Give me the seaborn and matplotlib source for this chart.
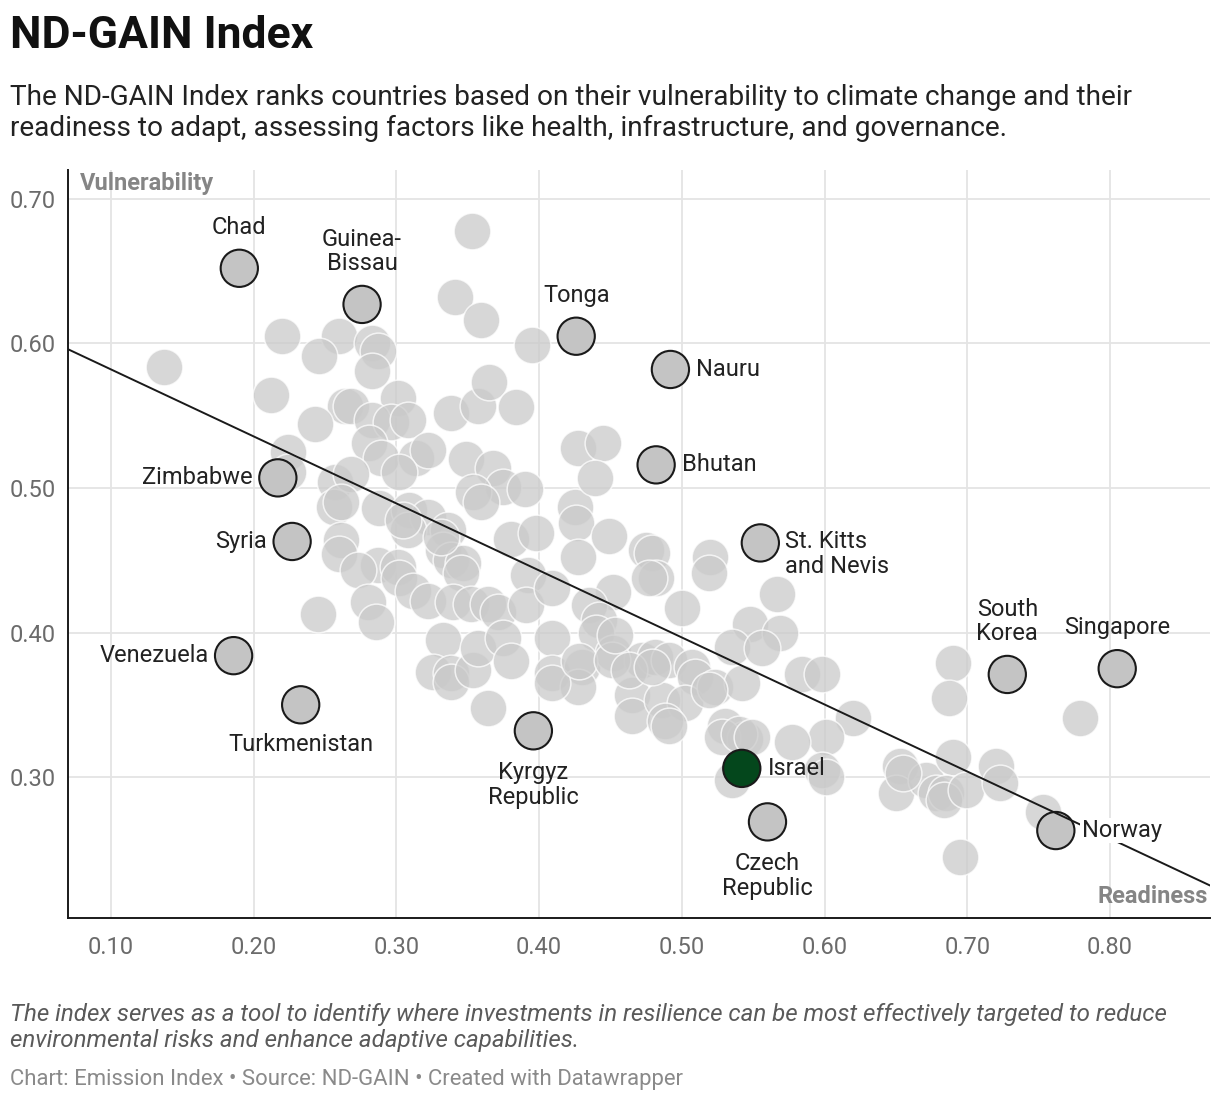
import matplotlib
matplotlib.use("Agg")
import matplotlib.pyplot as plt
import seaborn as sns
import pandas as pd

# readiness (x) and vulnerability (y) of the unlabelled countries
other_readiness = [
    0.353, 0.341, 0.359, 0.395, 0.137, 0.220, 0.260, 0.246, 0.283, 0.287,
    0.283, 0.212, 0.264, 0.268, 0.301, 0.243, 0.283, 0.296, 0.308, 0.281,
    0.289, 0.314, 0.322, 0.302, 0.224, 0.224, 0.257, 0.268, 0.256, 0.261,
    0.288, 0.309, 0.322, 0.336, 0.308, 0.261, 0.338, 0.357, 0.365, 0.384,
    0.349, 0.368, 0.375, 0.390, 0.354, 0.359, 0.380, 0.398, 0.427, 0.425,
    0.445, 0.439, 0.426, 0.427, 0.449, 0.475, 0.479, 0.482, 0.520, 0.519,
    0.500, 0.567, 0.548, 0.569, 0.535, 0.556, 0.584, 0.598, 0.620, 0.601,
    0.577, 0.452, 0.435, 0.442, 0.440, 0.409, 0.409, 0.430, 0.427, 0.452,
    0.472, 0.481, 0.491, 0.507, 0.509, 0.465, 0.465, 0.486, 0.502, 0.488,
    0.523, 0.542, 0.530, 0.544, 0.535, 0.598, 0.601, 0.653, 0.650, 0.671,
    0.678, 0.690, 0.687, 0.779, 0.655, 0.690, 0.685, 0.684, 0.699, 0.720,
    0.723, 0.753, 0.695, 0.260, 0.287, 0.273, 0.301, 0.302, 0.312, 0.333,
    0.338, 0.347, 0.345, 0.322, 0.340, 0.352, 0.364, 0.371, 0.392, 0.391,
    0.409, 0.245, 0.280, 0.286, 0.333, 0.326, 0.338, 0.338, 0.354, 0.357,
    0.375, 0.380, 0.364, 0.409, 0.428, 0.451, 0.463, 0.477, 0.453, 0.331,
    0.305, 0.479, 0.519, 0.491, 0.528, 0.540, 0.549,
]
other_vulnerability = [
    0.678, 0.632, 0.616, 0.599, 0.584, 0.605, 0.605, 0.591, 0.600, 0.595,
    0.581, 0.564, 0.557, 0.557, 0.562, 0.544, 0.547, 0.546, 0.547, 0.531,
    0.521, 0.521, 0.526, 0.511, 0.525, 0.511, 0.504, 0.510, 0.487, 0.490,
    0.486, 0.485, 0.480, 0.471, 0.471, 0.464, 0.552, 0.557, 0.573, 0.556,
    0.520, 0.514, 0.501, 0.499, 0.497, 0.490, 0.465, 0.469, 0.528, 0.487,
    0.531, 0.507, 0.476, 0.452, 0.467, 0.457, 0.455, 0.438, 0.452, 0.441,
    0.417, 0.427, 0.406, 0.400, 0.390, 0.389, 0.371, 0.371, 0.341, 0.328,
    0.324, 0.428, 0.419, 0.409, 0.400, 0.396, 0.372, 0.376, 0.362, 0.386,
    0.381, 0.383, 0.381, 0.376, 0.369, 0.357, 0.342, 0.353, 0.351, 0.339,
    0.362, 0.365, 0.335, 0.326, 0.298, 0.305, 0.300, 0.308, 0.289, 0.298,
    0.289, 0.379, 0.355, 0.341, 0.303, 0.314, 0.289, 0.284, 0.291, 0.308,
    0.296, 0.276, 0.245, 0.454, 0.447, 0.443, 0.445, 0.438, 0.429, 0.457,
    0.450, 0.448, 0.441, 0.422, 0.421, 0.420, 0.420, 0.414, 0.440, 0.419,
    0.431, 0.413, 0.421, 0.407, 0.395, 0.373, 0.372, 0.366, 0.374, 0.389,
    0.396, 0.380, 0.348, 0.365, 0.380, 0.381, 0.374, 0.438, 0.398, 0.466,
    0.478, 0.376, 0.360, 0.335, 0.328, 0.330, 0.328,
]

# labelled countries
named_countries = ["Chad", "Guinea-\nBissau", "Tonga", "Nauru", "Bhutan", "Zimbabwe",
                   "Syria", "St. Kitts\nand Nevis", "Venezuela", "Turkmenistan",
                   "Kyrgyz\nRepublic", "Israel", "Czech\nRepublic", "South\nKorea",
                   "Singapore", "Norway"]
named_readiness = [0.190, 0.276, 0.426, 0.492, 0.482, 0.217, 0.227, 0.555, 0.186,
                   0.233, 0.396, 0.542, 0.560, 0.728, 0.805, 0.762]
named_vulnerability = [0.652, 0.627, 0.605, 0.582, 0.516, 0.507, 0.463, 0.462, 0.384,
                       0.350, 0.332, 0.306, 0.269, 0.371, 0.375, 0.263]
label_side = ["above", "above2", "above", "right", "right", "left", "left", "right2",
              "left", "below", "below2", "right", "below2", "above2", "above", "right"]

trend_x = [0.07, 0.87]
trend_y = [0.596, 0.225]

others = pd.DataFrame({"Readiness": other_readiness, "Vulnerability": other_vulnerability})
named = pd.DataFrame({"Country": named_countries, "Readiness": named_readiness,
                      "Vulnerability": named_vulnerability, "side": label_side})
named["color"] = ["#04471c" if c == "Israel" else "#c4c4c4" for c in named["Country"]]
trend = pd.DataFrame({"x": trend_x, "y": trend_y})

sns.set_style("white")
plt.rcParams["font.family"] = ["Roboto", "DejaVu Sans"]

fig = plt.figure(figsize=(12.2, 11.02), dpi=100)
ax = fig.add_axes([68 / 1220, 1 - 918 / 1102, 1142 / 1220, 748 / 1102])

sns.scatterplot(data=others, x="Readiness", y="Vulnerability", s=700, color="#cacaca",
                alpha=0.75, edgecolor="white", linewidth=1.1, ax=ax, zorder=2)
sns.scatterplot(data=named, x="Readiness", y="Vulnerability", s=720, hue="Country",
                palette=dict(zip(named["Country"], named["color"])), legend=False,
                edgecolor="#1a1a1a", linewidth=1.5, ax=ax, zorder=3)
sns.lineplot(data=trend, x="x", y="y", color="#1a1a1a", linewidth=1.4, ax=ax, zorder=4)

offsets = {
    "above": (0, 41, "center", "center"),
    "above2": (0, 53, "center", "center"),
    "below": (0, -40, "center", "center"),
    "below2": (0, -54, "center", "center"),
    "right": (26, 0, "left", "center"),
    "right2": (25, 13, "left", "top"),
    "left": (-25, 0, "right", "center"),
}
for _, r in named.iterrows():
    dx, dy, ha, va = offsets[r["side"]]
    bbox = dict(fc="white", ec="none", pad=1) if r["Country"] == "Norway" else None
    ax.annotate(r["Country"], (r["Readiness"], r["Vulnerability"]), xytext=(dx, dy),
                textcoords="offset pixels", ha=ha, va=va, fontsize=17, color="#222222",
                linespacing=1.1, zorder=5, bbox=bbox)

ax.set_xlim(0.07, 0.87)
ax.set_ylim(0.2025, 0.72)
ax.set_xticks([0.1, 0.2, 0.3, 0.4, 0.5, 0.6, 0.7, 0.8])
ax.set_yticks([0.3, 0.4, 0.5, 0.6, 0.7])
ax.set_xticklabels([f"{v:.2f}" for v in ax.get_xticks()])
ax.set_yticklabels([f"{v:.2f}" for v in ax.get_yticks()])
ax.tick_params(axis="both", length=0, labelsize=17, labelcolor="#6b6b6b")
ax.tick_params(axis="x", pad=13)
ax.tick_params(axis="y", pad=9)
ax.grid(True, color="#e4e4e4", linewidth=1.3)
ax.set_axisbelow(True)
for side in ["top", "right"]:
    ax.spines[side].set_visible(False)
for side in ["left", "bottom"]:
    ax.spines[side].set_color("#1a1a1a")
    ax.spines[side].set_linewidth(1.4)
ax.set_xlabel("")
ax.set_ylabel("")

ax.text(0.01, 0.997, "Vulnerability", transform=ax.transAxes, ha="left", va="top",
        fontsize=17, fontweight="bold", color="#858585")
ax.text(0.9985, 0.013, "Readiness", transform=ax.transAxes, ha="right", va="bottom",
        fontsize=17, fontweight="bold", color="#858585")

fig.text(10 / 1220, 1 - 15 / 1102, "ND-GAIN Index", ha="left", va="top",
         fontsize=32, fontweight="bold", color="#111111")
fig.text(10 / 1220, 1 - 84 / 1102,
         "The ND-GAIN Index ranks countries based on their vulnerability to climate change and their\n"
         "readiness to adapt, assessing factors like health, infrastructure, and governance.",
         ha="left", va="top", fontsize=20.2, color="#222222", linespacing=1.2)
fig.text(10 / 1220, 1 - 1003 / 1102,
         "The index serves as a tool to identify where investments in resilience can be most effectively targeted to reduce\n"
         "environmental risks and enhance adaptive capabilities.",
         ha="left", va="top", fontsize=17.4, style="italic", color="#5a5a5a", linespacing=1.15)
fig.text(10 / 1220, 1 - 1069 / 1102,
         "Chart: Emission Index \u2022 Source: ND-GAIN \u2022 Created with Datawrapper",
         ha="left", va="top", fontsize=15.9, color="#8a8a8a")

fig.savefig("out.png", dpi=100)
